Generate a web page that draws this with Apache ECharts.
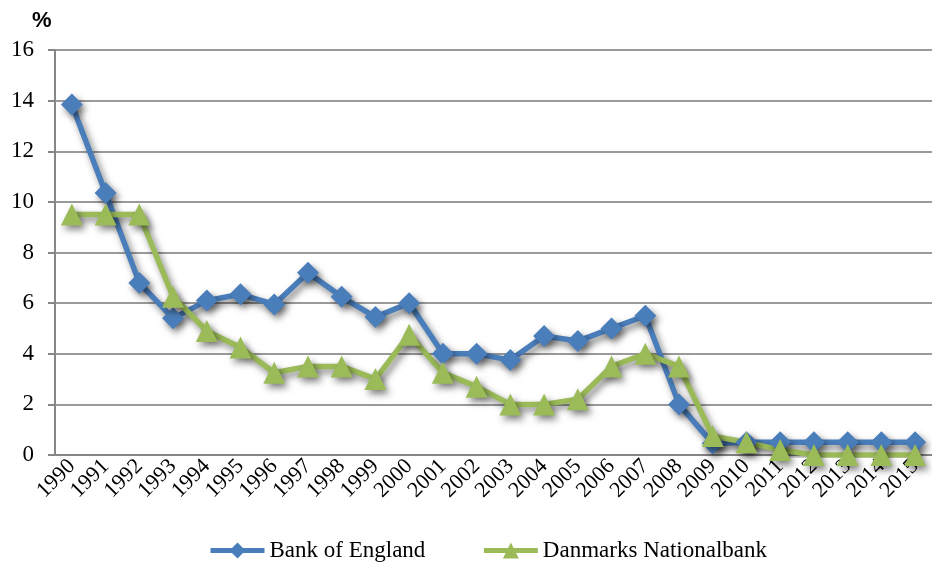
<!DOCTYPE html>
<html>
<head>
<meta charset="utf-8">
<script src="https://cdn.jsdelivr.net/npm/echarts@6/dist/echarts.min.js"></script>
<style>
  html, body { margin: 0; padding: 0; background: #fff; }
  #chart { width: 932px; height: 563px; }
</style>
</head>
<body>
<div id="chart"></div>
<script>
// years on the x axis
const years = ['1990', '1991', '1992', '1993', '1994', '1995', '1996', '1997', '1998', '1999',
    '2000', '2001', '2002', '2003', '2004', '2005', '2006', '2007', '2008', '2009',
    '2010', '2011', '2012', '2013', '2014', '2015'];
// rates (%)
const bankOfEngland = [13.85, 10.35, 6.8, 5.4, 6.1, 6.35, 5.95, 7.2, 6.25, 5.45,
    6.0, 4.0, 4.0, 3.75, 4.7, 4.5, 5.0, 5.5, 2.0, 0.45,
    0.5, 0.5, 0.5, 0.5, 0.5, 0.5];
const nationalbank = [9.5, 9.5, 9.5, 6.25, 4.9, 4.25, 3.25, 3.5, 3.5, 3.0,
    4.75, 3.25, 2.7, 2.0, 2.0, 2.2, 3.5, 4.0, 3.5, 0.75,
    0.5, 0.2, 0.0, 0.0, 0.0, 0.0];

const serif = '"Liberation Serif", "DejaVu Serif", serif';
const blue = '#4a7ebb';
const green = '#9bbb59';

const shadow = {
    shadowColor: 'rgba(0,0,0,0.5)',
    shadowBlur: 7,
    shadowOffsetX: 3,
    shadowOffsetY: 4
};

function makeSeries(name, data, color, symbol, size) {
    return {
        name: name,
        type: 'line',
        data: data,
        symbol: symbol,
        symbolSize: size,
        showAllSymbol: true,
        lineStyle: Object.assign({ color: color, width: 5.5 }, shadow),
        itemStyle: Object.assign({ color: color }, shadow)
    };
}

const myChart = echarts.init(document.getElementById('chart'));
myChart.setOption({
    animation: false,
    title: {
        text: '%',
        left: 27,
        top: 5,
        textStyle: { fontFamily: 'Arial, "Liberation Sans", sans-serif', fontSize: 22, fontWeight: 'bold', color: '#000' }
    },
    grid: { left: 55, top: 50, width: 880, height: 405 },
    legend: {
        left: 203,
        top: 534,
        itemWidth: 54,
        itemHeight: 20,
        itemGap: 56,
        lineStyle: { width: 5, shadowBlur: 0, shadowOffsetX: 0, shadowOffsetY: 0 },
        itemStyle: { shadowBlur: 0, shadowOffsetX: 0, shadowOffsetY: 0 },
        textStyle: { fontFamily: serif, fontSize: 23, color: '#000' },
        data: ['Bank of England', 'Danmarks Nationalbank']
    },
    xAxis: {
        type: 'category',
        data: years,
        boundaryGap: true,
        axisLine: { lineStyle: { color: '#868686', width: 2 } },
        axisTick: { length: 6, lineStyle: { color: '#868686', width: 2 } },
        axisLabel: { rotate: 45, interval: 0, margin: 8, fontFamily: serif, fontSize: 22, color: '#000' }
    },
    yAxis: {
        type: 'value',
        min: 0,
        max: 16,
        interval: 2,
        axisLine: { show: true, lineStyle: { color: '#868686', width: 2 } },
        axisTick: { show: true, length: 7, lineStyle: { color: '#868686', width: 2 } },
        axisLabel: { margin: 21, fontFamily: serif, fontSize: 23, color: '#000' },
        splitLine: { lineStyle: { color: '#9a9a9a', width: 2 } }
    },
    series: [
        makeSeries('Bank of England', bankOfEngland, blue, 'diamond', 22),
        makeSeries('Danmarks Nationalbank', nationalbank, green, 'triangle', 22)
    ]
});
</script>
</body>
</html>
